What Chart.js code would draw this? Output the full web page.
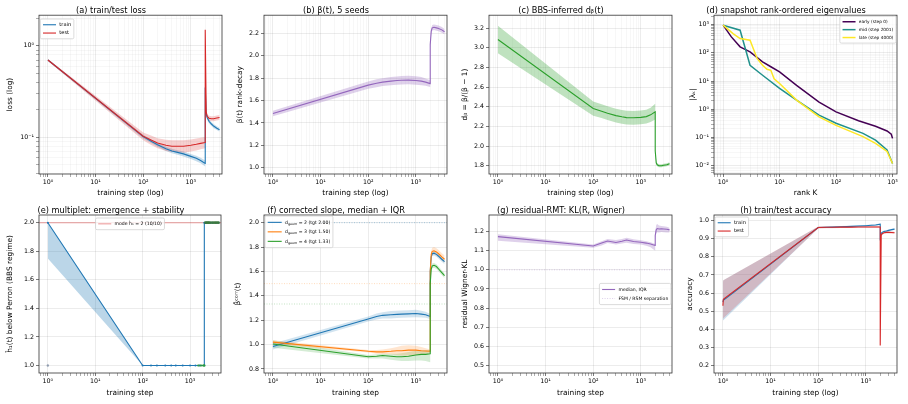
<!DOCTYPE html>
<html>
<head>
<meta charset="utf-8">
<script src="https://cdn.jsdelivr.net/npm/chart.js@4.4.0/dist/chart.umd.min.js"></script>
<style>
body { margin: 0; background: #fff; width: 908px; height: 404px; position: relative; overflow: hidden; }
canvas { position: absolute; }
</style>
</head>
<body>
<canvas id="ca" width="225" height="200" style="left:0;top:0"></canvas>
<canvas id="cb" width="225" height="200" style="left:225px;top:0"></canvas>
<canvas id="cc" width="225" height="200" style="left:450px;top:0"></canvas>
<canvas id="cd" width="233" height="200" style="left:675px;top:0"></canvas>
<canvas id="ce" width="225" height="204" style="left:0;top:200px"></canvas>
<canvas id="cf" width="225" height="204" style="left:225px;top:200px"></canvas>
<canvas id="cg" width="225" height="204" style="left:450px;top:200px"></canvas>
<canvas id="ch" width="233" height="204" style="left:675px;top:200px"></canvas>
<script>
// ---------- data ----------
const steps = [1, 100, 150, 200, 300, 400, 500, 700, 1000, 1300, 1600, 2000, 2001, 2100, 2200, 2400, 2700, 3000, 3500, 4000];

// (a) loss
const trainLoss   = [0.70, 0.102, 0.090, 0.083, 0.075, 0.071, 0.069, 0.066, 0.062, 0.059, 0.056, 0.052, 0.35, 0.18, 0.165, 0.150, 0.140, 0.133, 0.126, 0.121];
const trainLossLo = [0.685, 0.097, 0.086, 0.079, 0.071, 0.067, 0.065, 0.062, 0.058, 0.055, 0.052, 0.048, 0.33, 0.17, 0.155, 0.142, 0.133, 0.126, 0.120, 0.115];
const trainLossHi = [0.715, 0.107, 0.094, 0.087, 0.079, 0.075, 0.073, 0.070, 0.066, 0.063, 0.060, 0.056, 0.37, 0.19, 0.175, 0.158, 0.147, 0.140, 0.132, 0.127];
const testLoss    = [0.70, 0.103, 0.093, 0.087, 0.082, 0.080, 0.080, 0.080, 0.082, 0.084, 0.086, 0.088, 1.50, 0.19, 0.17, 0.162, 0.160, 0.160, 0.163, 0.165];
const testLossLo  = [0.68, 0.093, 0.082, 0.076, 0.071, 0.069, 0.069, 0.068, 0.070, 0.072, 0.074, 0.076, 1.40, 0.18, 0.16, 0.152, 0.150, 0.150, 0.153, 0.155];
const testLossHi  = [0.72, 0.113, 0.104, 0.098, 0.094, 0.093, 0.093, 0.093, 0.095, 0.097, 0.099, 0.101, 1.60, 0.20, 0.18, 0.172, 0.170, 0.170, 0.173, 0.175];

// (b) beta(t)
const beta   = [1.485, 1.738, 1.755, 1.765, 1.774, 1.779, 1.782, 1.783, 1.780, 1.774, 1.765, 1.752, 2.10, 2.22, 2.25, 2.255, 2.25, 2.245, 2.232, 2.215];
const betaLo = [1.46, 1.705, 1.72, 1.73, 1.738, 1.742, 1.744, 1.745, 1.742, 1.738, 1.732, 1.722, 2.07, 2.195, 2.225, 2.23, 2.225, 2.22, 2.207, 2.19];
const betaHi = [1.51, 1.771, 1.79, 1.80, 1.81, 1.816, 1.82, 1.821, 1.818, 1.81, 1.798, 1.782, 2.13, 2.245, 2.275, 2.28, 2.275, 2.27, 2.257, 2.24];

// (c) d_beta
const dBeta   = [3.085, 2.383, 2.355, 2.335, 2.31, 2.298, 2.29, 2.288, 2.292, 2.30, 2.318, 2.35, 1.95, 1.83, 1.81, 1.80, 1.80, 1.805, 1.81, 1.82];
const dBetaLo = [2.945, 2.31, 2.285, 2.265, 2.24, 2.228, 2.22, 2.218, 2.222, 2.23, 2.245, 2.27, 1.93, 1.815, 1.795, 1.785, 1.785, 1.79, 1.795, 1.805];
const dBetaHi = [3.225, 2.455, 2.425, 2.405, 2.38, 2.368, 2.36, 2.358, 2.362, 2.37, 2.39, 2.43, 1.97, 1.845, 1.825, 1.815, 1.815, 1.82, 1.825, 1.835];

// (d) rank-ordered eigenvalues
const rankEarly = [1, 1.4, 2, 3, 5, 7, 10, 20, 50, 100, 250, 500, 800, 950, 1000];
const eigEarly  = [950, 365, 162, 107, 48, 32, 21, 7, 1.8, 0.81, 0.39, 0.25, 0.17, 0.13, 0.093];
const rankMid   = [1, 2, 3, 5, 10, 20, 50, 100, 300, 500, 800, 1000];
const eigMid    = [950, 630, 36, 16, 5.5, 2.1, 0.62, 0.32, 0.14, 0.081, 0.036, 0.012];
const rankLate  = [1, 1.5, 2, 3, 4, 5, 6, 7, 8, 10, 20, 50, 100, 300, 500, 800, 1000];
const eigLate   = [950, 480, 320, 280, 63, 36, 26, 24, 12, 8.2, 2.1, 0.54, 0.27, 0.107, 0.062, 0.032, 0.012];

// (e) multiplet h1
const h1Median = [2.0, 1.0, 1.0, 1.0, 1.0, 1.0, 1.0, 1.0, 1.0, 1.0, 1.0, 1.0, 2.0, 2.0, 2.0, 2.0, 2.0, 2.0, 2.0, 2.0];
const h1Lo     = [1.75, 1.0, 1.0, 1.0, 1.0, 1.0, 1.0, 1.0, 1.0, 1.0, 1.0, 1.0, 2.0, 2.0, 2.0, 2.0, 2.0, 2.0, 2.0, 2.0];
const seedHighSteps = [2100, 2200, 2300, 2400, 2500, 2600, 2800, 3000, 3200, 3400, 3600, 3800, 4000];
const seedHighVals  = [2, 2, 2, 2, 2, 2, 2, 2, 2, 2, 2, 2, 2];
const seedLowSteps  = [1500, 1700, 1900, 2000];
const seedLowVals   = [1, 1, 1, 1];
const outlierSteps  = [1];
const outlierVals   = [1.0];
const h1Mode = 2;

// (f) corrected slope
const slope2   = [0.985, 1.21, 1.23, 1.24, 1.245, 1.248, 1.25, 1.252, 1.255, 1.25, 1.245, 1.23, 1.60, 1.72, 1.745, 1.75, 1.74, 1.725, 1.70, 1.68];
const slope2Lo = [0.96, 1.19, 1.205, 1.215, 1.215, 1.218, 1.22, 1.222, 1.225, 1.222, 1.22, 1.21, 1.58, 1.70, 1.725, 1.73, 1.72, 1.705, 1.68, 1.66];
const slope2Hi = [1.01, 1.23, 1.255, 1.265, 1.275, 1.278, 1.28, 1.282, 1.285, 1.278, 1.27, 1.25, 1.62, 1.74, 1.765, 1.77, 1.76, 1.745, 1.72, 1.70];
const slope3   = [1.02, 0.945, 0.94, 0.94, 0.945, 0.95, 0.95, 0.955, 0.955, 0.95, 0.948, 0.945, 1.60, 1.74, 1.765, 1.77, 1.76, 1.745, 1.72, 1.70];
const slope3Lo = [1.005, 0.935, 0.925, 0.92, 0.92, 0.915, 0.91, 0.91, 0.915, 0.92, 0.925, 0.93, 1.57, 1.71, 1.735, 1.74, 1.73, 1.715, 1.69, 1.67];
const slope3Hi = [1.035, 0.955, 0.955, 0.96, 0.97, 0.98, 0.99, 0.995, 0.99, 0.98, 0.97, 0.96, 1.63, 1.77, 1.795, 1.80, 1.79, 1.775, 1.75, 1.73];
const slope4   = [1.005, 0.90, 0.905, 0.91, 0.905, 0.90, 0.90, 0.905, 0.915, 0.92, 0.92, 0.925, 1.50, 1.62, 1.645, 1.65, 1.64, 1.62, 1.59, 1.565];
const slope4Lo = [0.975, 0.885, 0.885, 0.885, 0.875, 0.87, 0.865, 0.865, 0.87, 0.87, 0.865, 0.855, 1.48, 1.60, 1.625, 1.63, 1.62, 1.60, 1.57, 1.545];
const slope4Hi = [1.035, 0.915, 0.92, 0.925, 0.925, 0.925, 0.93, 0.94, 0.95, 0.955, 0.955, 0.955, 1.52, 1.64, 1.665, 1.67, 1.66, 1.64, 1.61, 1.585];
const slopeTargets = [2.0, 1.5, 1.333];

// (g) residual Wigner KL
const kl   = [1.174, 1.125, 1.14, 1.151, 1.143, 1.15, 1.156, 1.148, 1.144, 1.14, 1.135, 1.127, 1.18, 1.21, 1.216, 1.214, 1.215, 1.214, 1.212, 1.209];
const klLo = [1.152, 1.115, 1.128, 1.14, 1.133, 1.138, 1.142, 1.135, 1.132, 1.126, 1.118, 1.10, 1.16, 1.19, 1.197, 1.196, 1.198, 1.197, 1.195, 1.195];
const klHi = [1.186, 1.132, 1.15, 1.162, 1.156, 1.162, 1.168, 1.16, 1.155, 1.15, 1.145, 1.135, 1.20, 1.235, 1.24, 1.232, 1.23, 1.228, 1.225, 1.22];
const klSeparation = 1.0;

// (h) accuracy
const accSteps   = [1, 1.02, 100, 150, 200, 300, 400, 500, 700, 1000, 1300, 1600, 2000, 2001, 2100, 2200, 2400, 2700, 3000, 3500, 4000];
const trainAcc   = [0.55, 0.56, 0.962, 0.963, 0.964, 0.966, 0.967, 0.968, 0.970, 0.972, 0.974, 0.976, 0.980, 0.91, 0.93, 0.935, 0.940, 0.943, 0.946, 0.950, 0.953];
const trainAccLo = [0.45, 0.45, 0.958, 0.959, 0.960, 0.962, 0.963, 0.964, 0.966, 0.968, 0.970, 0.972, 0.976, 0.90, 0.925, 0.930, 0.935, 0.938, 0.941, 0.945, 0.948];
const trainAccHi = [0.66, 0.67, 0.966, 0.967, 0.968, 0.970, 0.971, 0.972, 0.974, 0.976, 0.978, 0.980, 0.984, 0.92, 0.935, 0.940, 0.945, 0.948, 0.951, 0.955, 0.958];
const testAcc    = [0.53, 0.565, 0.962, 0.963, 0.963, 0.964, 0.964, 0.964, 0.965, 0.965, 0.965, 0.965, 0.965, 0.31, 0.92, 0.928, 0.933, 0.935, 0.935, 0.934, 0.933];
const testAccLo  = [0.45, 0.46, 0.957, 0.958, 0.958, 0.959, 0.959, 0.959, 0.960, 0.960, 0.960, 0.960, 0.960, 0.30, 0.915, 0.922, 0.927, 0.929, 0.929, 0.928, 0.927];
const testAccHi  = [0.66, 0.67, 0.967, 0.968, 0.968, 0.969, 0.969, 0.969, 0.970, 0.970, 0.970, 0.970, 0.970, 0.32, 0.925, 0.934, 0.939, 0.941, 0.941, 0.940, 0.939];

// tick labels
const stepTicks = [1, 10, 100, 1000];
const stepLabels = ['10⁰', '10¹', '10²', '10³'];
const lossTicks = [0.1, 1];
const lossLabels = ['10⁻¹', '10⁰'];
const eigTicks = [0.01, 0.1, 1, 10, 100, 1000];
const eigLabels = ['10⁻²', '10⁻¹', '10⁰', '10¹', '10²', '10³'];
const bTicks = [1.0, 1.2, 1.4, 1.6, 1.8, 2.0, 2.2];
const cTicks = [1.8, 2.0, 2.2, 2.4, 2.6, 2.8, 3.0, 3.2];
const eTicks = [1.0, 1.2, 1.4, 1.6, 1.8, 2.0];
const fTicks = [0.8, 1.0, 1.2, 1.4, 1.6, 1.8, 2.0];
const gTicks = [0.5, 0.6, 0.7, 0.8, 0.9, 1.0, 1.1, 1.2];
const hTicks = [0.2, 0.3, 0.4, 0.5, 0.6, 0.7, 0.8, 0.9, 1.0];

// ---------- styling ----------
const FONT = 'DejaVu Sans';
const BLUE = '#1f77b4', ORANGE = '#ff7f0e', GREEN = '#2ca02c', RED = '#d62728', PURPLE = '#9467bd';
const GRID_MAJOR = 'rgba(0,0,0,0.13)', GRID_MINOR = 'rgba(0,0,0,0.055)';
const TICK_FS = 6.3, LABEL_FS = 7.4, TITLE_FS = 8.2;
const X_MIN = 0.65, X_MAX = 4500;

Chart.defaults.font.family = FONT;
Chart.defaults.color = '#000';
Chart.defaults.animation = false;
Chart.defaults.plugins.legend.display = false;
Chart.defaults.plugins.tooltip.enabled = false;

const pts = (xs, ys) => xs.map((x, i) => ({ x: x, y: ys[i] }));

function line(xs, ys, color, w, extra) {
    return Object.assign({ data: pts(xs, ys), borderColor: color, backgroundColor: color,
        borderWidth: w || 1.1, pointRadius: 0, fill: false }, extra || {});
}

function band(xs, lo, hi, color) {
    return [
        { data: pts(xs, lo), borderColor: 'rgba(0,0,0,0)', borderWidth: 0, pointRadius: 0, fill: false },
        { data: pts(xs, hi), borderColor: 'rgba(0,0,0,0)', borderWidth: 0, pointRadius: 0, fill: '-1', backgroundColor: color }
    ];
}

function refLine(y, color, dash, w) {
    return line([X_MIN, X_MAX], [y, y], color, w || 0.9, { borderDash: dash || [] });
}

function logGrid(min, max) {
    const out = [];
    for (let k = Math.floor(Math.log10(min)); k <= Math.ceil(Math.log10(max)); k++) {
        for (let m = 1; m <= 9; m++) {
            const v = m * Math.pow(10, k);
            if (v >= min * 0.9999 && v <= max * 1.0001) out.push({ value: v, minor: m !== 1 });
        }
    }
    return out;
}

function labelFor(v, vals, labels) {
    const i = vals.findIndex(t => Math.abs(t - v) < 1e-9 * Math.max(1, t));
    return i < 0 ? '' : labels[i];
}

function gridOpts(minorOn) {
    return {
        lineWidth: 0.6, tickLength: 3, tickWidth: 0.6,
        color: c => (c.tick && c.tick.minor) ? (minorOn ? GRID_MINOR : 'rgba(0,0,0,0)') : GRID_MAJOR,
        tickColor: c => (c.tick && c.tick.minor) ? '#777' : '#222'
    };
}

function xAxis(p) {
    return {
        type: 'logarithmic', min: p.xMin || X_MIN, max: p.xMax || X_MAX,
        afterBuildTicks: s => { s.ticks = logGrid(s.min, s.max); },
        afterFit: s => { s.height = p.xH; },
        ticks: { autoSkip: false, maxRotation: 0, padding: 2, font: { size: TICK_FS },
            callback: v => labelFor(v, p.xTicks || stepTicks, p.xLabels || stepLabels) },
        grid: gridOpts(p.xMinor),
        border: { display: false },
        title: { display: true, text: p.xTitle, font: { size: LABEL_FS }, padding: { top: 0, bottom: p.xTitlePad } }
    };
}

function yAxis(p) {
    const ax = {
        afterFit: s => { s.width = 39; },
        min: p.yMin, max: p.yMax,
        grid: gridOpts(p.yMinor),
        border: { display: false },
        title: { display: true, text: p.yTitle, font: { size: LABEL_FS }, padding: { top: p.yTitlePad, bottom: 0 } }
    };
    if (p.yLog) {
        ax.type = 'logarithmic';
        ax.afterBuildTicks = s => { s.ticks = logGrid(s.min, s.max); };
        ax.ticks = { autoSkip: false, padding: 2, font: { size: TICK_FS },
            callback: v => labelFor(v, p.yTicks, p.yLabels) };
    } else {
        ax.type = 'linear';
        ax.afterBuildTicks = s => { s.ticks = p.yTicks.map(v => ({ value: v })); };
        ax.ticks = { autoSkip: false, padding: 2, font: { size: TICK_FS }, callback: v => v.toFixed(1) };
    }
    return ax;
}

// frame round the plot area, like matplotlib spines
const framePlugin = {
    id: 'frame',
    afterDatasetsDraw(chart) {
        const { ctx, chartArea: a } = chart;
        ctx.save();
        ctx.strokeStyle = '#333';
        ctx.lineWidth = 0.8;
        ctx.strokeRect(a.left, a.top, a.right - a.left, a.bottom - a.top);
        ctx.restore();
    }
};

function richParts(s) {
    const out = [], re = /_\{([^}]*)\}/g;
    let last = 0, m;
    while ((m = re.exec(s))) {
        if (m.index > last) out.push({ t: s.slice(last, m.index) });
        out.push({ t: m[1], sub: true });
        last = re.lastIndex;
    }
    if (last < s.length) out.push({ t: s.slice(last) });
    return out;
}

function richWidth(ctx, s, fs) {
    let w = 0;
    for (const p of richParts(s)) {
        ctx.font = (p.sub ? fs * 0.72 : fs) + 'px "' + FONT + '"';
        w += ctx.measureText(p.t).width;
    }
    return w;
}

function drawRich(ctx, s, x, y, fs) {
    ctx.textBaseline = 'middle';
    ctx.textAlign = 'left';
    ctx.fillStyle = '#000';
    for (const p of richParts(s)) {
        const f = p.sub ? fs * 0.72 : fs;
        ctx.font = f + 'px "' + FONT + '"';
        ctx.fillText(p.t, x, y + (p.sub ? fs * 0.3 : 0));
        x += ctx.measureText(p.t).width;
    }
}

// matplotlib-style framed legend inside the axes
const boxLegend = {
    id: 'boxLegend',
    afterDatasetsDraw(chart, args, o) {
        if (!o || !o.items) return;
        const { ctx, chartArea: a } = chart;
        const fs = o.size, row = o.row, padX = 2.7, padY = 1.6, hl = o.handle || 13, gap = 3.3;
        ctx.save();
        const tw = Math.max(...o.items.map(it => richWidth(ctx, it.label, fs)));
        const w = padX * 2 + hl + gap + tw;
        const h = padY * 2 + row * o.items.length;
        let x0;
        if (o.right != null) x0 = a.right - o.right - w;
        else if (o.center) x0 = (a.left + a.right) / 2 - w / 2;
        else x0 = a.left + o.left;
        const y0 = o.middle ? (a.top + a.bottom) / 2 - h / 2 : a.top + o.top;
        ctx.beginPath();
        if (ctx.roundRect) ctx.roundRect(x0, y0, w, h, 1.5); else ctx.rect(x0, y0, w, h);
        ctx.fillStyle = 'rgba(255,255,255,0.8)';
        ctx.fill();
        ctx.strokeStyle = '#cccccc';
        ctx.lineWidth = 0.7;
        ctx.stroke();
        o.items.forEach((it, i) => {
            const y = y0 + padY + row * (i + 0.5);
            ctx.beginPath();
            ctx.strokeStyle = it.color;
            ctx.lineWidth = it.width || 1.1;
            ctx.setLineDash(it.dash || []);
            ctx.moveTo(x0 + padX, y);
            ctx.lineTo(x0 + padX + hl, y);
            ctx.stroke();
            ctx.setLineDash([]);
            drawRich(ctx, it.label, x0 + padX + hl + gap, y, fs);
        });
        ctx.restore();
    }
};

function panel(id, p) {
    const top = p.row === 0;
    return new Chart(document.getElementById(id), {
        type: 'line',
        data: { datasets: p.datasets },
        options: {
            responsive: false,
            layout: { padding: { top: 0, right: p.padRight || 3, bottom: 0, left: 0 } },
            elements: { line: { tension: 0 } },
            plugins: {
                title: { display: true, text: p.title, font: { size: TITLE_FS, weight: 'normal', lineHeight: 1 },
                    padding: { top: top ? 7 : 6.8, bottom: 0 } },
                boxLegend: p.legend || {}
            },
            scales: {
                x: xAxis(Object.assign({ xH: top ? 26 : 31, xTitlePad: top ? 2.5 : 6.5 }, p)),
                y: yAxis(p)
            }
        },
        plugins: [framePlugin, boxLegend]
    });
}

// (a)
panel('ca', {
    row: 0, title: '(a) train/test loss', xTitle: 'training step (log)', xMinor: true,
    yLog: true, yMin: 0.0398, yMax: 2.16, yTicks: lossTicks, yLabels: lossLabels, yMinor: true,
    yTitle: 'loss (log)', yTitlePad: 5.6,
    datasets: [
        line(steps, testLoss, RED, 1.1),
        line(steps, trainLoss, BLUE, 1.1),
        ...band(steps, testLossLo, testLossHi, 'rgba(214,39,40,0.22)'),
        ...band(steps, trainLossLo, trainLossHi, 'rgba(31,119,180,0.25)')
    ],
    legend: { left: 1.3, top: 3.8, size: 5.1, row: 8.3, items: [
        { label: 'train', color: BLUE }, { label: 'test', color: RED }] }
});

// (b)
panel('cb', {
    row: 0, title: '(b) β(t), 5 seeds', xTitle: 'training step (log)', xMinor: true,
    yMin: 0.944, yMax: 2.363, yTicks: bTicks, yTitle: 'β(t) rank-decay', yTitlePad: 10.6,
    datasets: [
        line(steps, beta, PURPLE, 1.1),
        ...band(steps, betaLo, betaHi, 'rgba(148,103,189,0.3)')
    ]
});

// (c)
panel('cc', {
    row: 0, title: '(c) BBS-inferred dᵦ(t)', xTitle: 'training step (log)', xMinor: true,
    yMin: 1.716, yMax: 3.332, yTicks: cTicks, yTitle: 'dᵦ = β/(β − 1)', yTitlePad: 10.6,
    datasets: [
        line(steps, dBeta, GREEN, 1.1),
        ...band(steps, dBetaLo, dBetaHi, 'rgba(44,160,44,0.3)')
    ]
});

// (d)
panel('cd', {
    row: 0, padRight: 11, title: '(d) snapshot rank-ordered eigenvalues', xTitle: 'rank K', xMinor: true,
    xMin: 0.69, xMax: 1200, xTicks: stepTicks, xLabels: stepLabels,
    yLog: true, yMin: 0.0051, yMax: 2140, yTicks: eigTicks, yLabels: eigLabels, yMinor: true,
    yTitle: '|λₖ|', yTitlePad: 13.9,
    datasets: [
        line(rankLate, eigLate, '#fde725', 1.5),
        line(rankMid, eigMid, '#21918c', 1.5),
        line(rankEarly, eigEarly, '#440154', 1.5)
    ],
    legend: { right: 1, top: 1, size: 4.3, row: 7.9, items: [
        { label: 'early (step 0)', color: '#440154', width: 1.5 },
        { label: 'mid (step 2001)', color: '#21918c', width: 1.5 },
        { label: 'late (step 4000)', color: '#fde725', width: 1.5 }] }
});

// (e)
panel('ce', {
    row: 1, title: '(e) multiplet: emergence + stability', xTitle: 'training step',
    yMin: 0.947, yMax: 2.054, yTicks: eTicks, yTitle: 'ĥ₁(t) below Perron (BBS regime)', yTitlePad: 5.6,
    datasets: [
        line(seedHighSteps, seedHighVals, 'rgba(60,120,60,0.8)', 1, { showLine: false, pointRadius: 1.4, pointBorderWidth: 0 }),
        line(seedLowSteps, seedLowVals, 'rgba(44,160,44,0.7)', 1, { showLine: false, pointRadius: 1.2, pointBorderWidth: 0 }),
        line(outlierSteps, outlierVals, 'rgba(90,110,140,0.6)', 1, { showLine: false, pointRadius: 1.2, pointBorderWidth: 0 }),
        line(steps, h1Median, BLUE, 1.1, { pointRadius: 1, pointBorderWidth: 0 }),
        refLine(h1Mode, 'rgba(214,39,40,0.45)', [], 1.1),
        ...band(steps, h1Lo, h1Median, 'rgba(31,119,180,0.3)')
    ],
    legend: { center: true, top: 3, size: 4.6, row: 8.5, items: [
        { label: 'mode ĥ₁ = 2 (10/10)', color: 'rgba(214,39,40,0.45)' }] }
});

// (f)
panel('cf', {
    row: 1, title: '(f) corrected slope, median + IQR', xTitle: 'training step',
    yMin: 0.767, yMax: 2.063, yTicks: fTicks, yTitle: 'β̂ᶜᵒʳʳ(t)', yTitlePad: 9,
    datasets: [
        line(steps, slope4, GREEN, 1.1),
        line(steps, slope3, ORANGE, 1.1),
        line(steps, slope2, BLUE, 1.1),
        refLine(slopeTargets[0], 'rgba(31,119,180,0.3)', [1, 1.5], 1.2),
        refLine(slopeTargets[1], 'rgba(255,127,14,0.35)', [1, 1.5], 0.8),
        refLine(slopeTargets[2], 'rgba(44,160,44,0.35)', [1, 1.5], 0.8),
        ...band(steps, slope2Lo, slope2Hi, 'rgba(31,119,180,0.2)'),
        ...band(steps, slope3Lo, slope3Hi, 'rgba(255,127,14,0.2)'),
        ...band(steps, slope4Lo, slope4Hi, 'rgba(44,160,44,0.2)')
    ],
    legend: { left: 1, top: 1, size: 4.6, row: 9.5, handle: 14, items: [
        { label: 'd_{geom} = 2 (tgt 2.00)', color: BLUE },
        { label: 'd_{geom} = 3 (tgt 1.50)', color: ORANGE },
        { label: 'd_{geom} = 4 (tgt 1.33)', color: GREEN }] }
});

// (g)
panel('cg', {
    row: 1, title: '(g) residual-RMT: KL(R, Wigner)', xTitle: 'training step',
    yMin: 0.46, yMax: 1.287, yTicks: gTicks, yTitle: 'residual Wigner-KL', yTitlePad: 10.6,
    datasets: [
        line(steps, kl, PURPLE, 1.1),
        refLine(klSeparation, 'rgba(148,103,189,0.45)', [1, 1.5], 0.7),
        ...band(steps, klLo, klHi, 'rgba(148,103,189,0.3)')
    ],
    legend: { right: 1, middle: true, size: 4.6, row: 9, items: [
        { label: 'median, IQR', color: PURPLE },
        { label: 'FSM / RSM separation', color: 'rgba(148,103,189,0.45)', dash: [1, 1.5], width: 0.7 }] }
});

// (h)
panel('ch', {
    row: 1, padRight: 11, title: '(h) train/test accuracy', xTitle: 'training step (log)',
    yMin: 0.158, yMax: 1.031, yTicks: hTicks, yTitle: 'accuracy', yTitlePad: 10.6,
    datasets: [
        line(accSteps, testAcc, RED, 1.1),
        line(accSteps, trainAcc, BLUE, 1.1),
        ...band(accSteps, testAccLo, testAccHi, 'rgba(214,39,40,0.22)'),
        ...band(accSteps, trainAccLo, trainAccHi, 'rgba(31,119,180,0.22)')
    ],
    legend: { left: 1, top: 2, size: 5.1, row: 8.3, items: [
        { label: 'train', color: BLUE }, { label: 'test', color: RED }] }
});
</script>
</body>
</html>
